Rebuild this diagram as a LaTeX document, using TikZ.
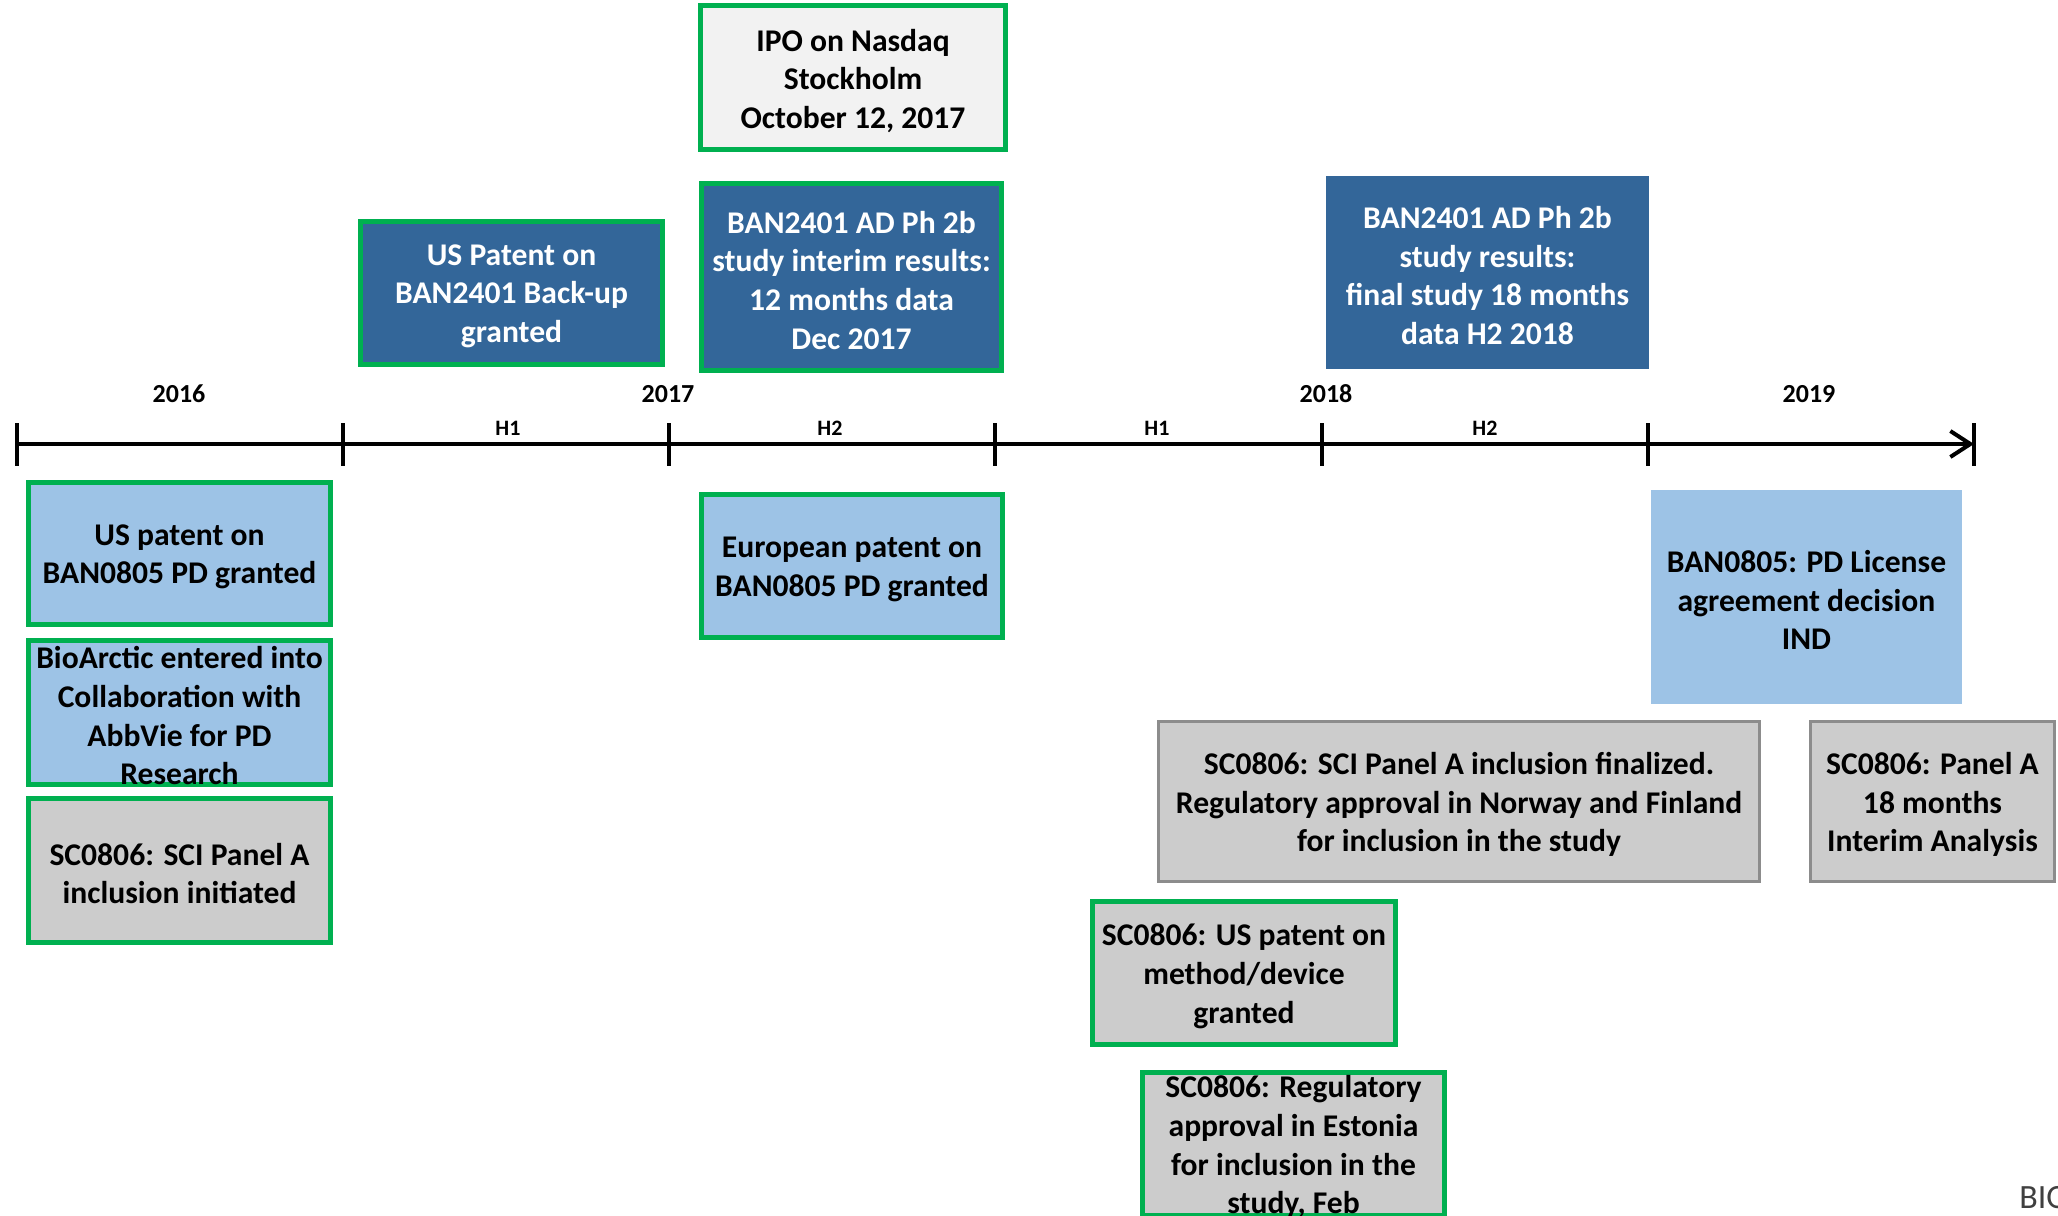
\documentclass[tikz,border=0pt]{standalone}
\usepackage{fontspec}
\setmainfont{Carlito}
\usetikzlibrary{arrows.meta}
\definecolor{dblue}{HTML}{336699}
\definecolor{lblue}{HTML}{9DC3E6}
\definecolor{gfill}{HTML}{CCCCCC}
\definecolor{lgray}{HTML}{F2F2F2}
\definecolor{grn}{HTML}{00B050}
\definecolor{gborder}{HTML}{8C8C8C}
\definecolor{logogray}{HTML}{404040}
\tikzset{
  evt/.style={inner sep=0pt},
  boxtext/.style={inner sep=0pt, align=center, yshift=-1.6pt,
    font=\fontsize{15.8pt}{19.3pt}\selectfont\bfseries},
  whitetext/.style={boxtext, text=white},
  blacktext/.style={boxtext, text=black},
  gbox/.style={evt, draw=grn, line width=2.5pt},
  darkbox/.style={fill=dblue},
  lightbox/.style={fill=lblue},
  graybox/.style={fill=gfill},
  ipobox/.style={fill=lgray},
  greyrim/.style={evt, draw=gborder, line width=1.5pt},
  axisline/.style={line width=2pt, black},
  tickmark/.style={line width=2pt, black},
  yearlbl/.style={inner sep=0pt, anchor=base, font=\fontsize{13pt}{15pt}\selectfont\bfseries},
  halflbl/.style={inner sep=0pt, anchor=base, font=\fontsize{11pt}{13pt}\selectfont\bfseries},
}
\begin{document}
\begin{tikzpicture}[x=0.5pt,y=-0.5pt]
\useasboundingbox (0,0) rectangle (2058,1216);

% timeline
\coordinate (t0) at (17,444);
\coordinate (t1) at (343,444);
\coordinate (t2) at (669,444);
\coordinate (t3) at (995,444);
\coordinate (t4) at (1322,444);
\coordinate (t5) at (1648,444);
\coordinate (t6) at (1974,444);
\draw[axisline, -{Straight Barb[length=10pt,width=13pt,line width=2pt]}] (t0) -- (t6);
\foreach \t in {t0,t1,t2,t3,t4,t5,t6}
  \draw[tickmark] ([yshift=10.5pt]\t) -- ([yshift=-11pt]\t);

\node[yearlbl] (y2016) at (179,402) {2016};
\node[yearlbl] (y2017) at (668,402) {2017};
\node[yearlbl] (y2018) at (1326,402) {2018};
\node[yearlbl] (y2019) at (1809,402) {2019};
\node[halflbl] (h1a) at (508,435) {H1};
\node[halflbl] (h2a) at (830,435) {H2};
\node[halflbl] (h1b) at (1157,435) {H1};
\node[halflbl] (h2b) at (1485,435) {H2};

% boxes above
\node[gbox, ipobox, minimum width=152.5pt, minimum height=72pt,
  label={[blacktext]center:{IPO on Nasdaq\\Stockholm\\October 12, 2017}}] (ipo) at (853,77.5) {};
\node[gbox, darkbox, minimum width=151pt, minimum height=71.5pt,
  label={[whitetext]center:{US Patent on\\BAN2401 Back-up\\granted}}] (uspat2401) at (511.5,293) {};
\node[gbox, darkbox, minimum width=150pt, minimum height=93.5pt,
  label={[whitetext]center:{BAN2401 AD Ph 2b\\study interim results:\\12 months data\\Dec 2017}}] (interim) at (851.5,277) {};
\node[evt, darkbox, minimum width=161.5pt, minimum height=96.5pt,
  label={[whitetext]center:{BAN2401 AD Ph 2b\\study results:\\final study 18 months\\data H2 2018}}] (final) at (1487.5,272.5) {};

% boxes below
\node[gbox, lightbox, minimum width=151pt, minimum height=71pt,
  label={[blacktext]center:{US patent on\\BAN0805 PD granted}}] (uspat0805) at (179.5,553.5) {};
\node[gbox, lightbox, minimum width=151pt, minimum height=72pt,
  label={[blacktext]center:{BioArctic entered into\\Collaboration with\\AbbVie for PD\\Research}}] (abbvie) at (179.5,712.5) {};
\node[gbox, graybox, minimum width=151pt, minimum height=72pt,
  label={[blacktext]center:{SC0806: SCI Panel A\\inclusion initiated}}] (sciinit) at (179.5,870.5) {};
\node[gbox, lightbox, minimum width=150.5pt, minimum height=71.5pt,
  label={[blacktext]center:{European patent on\\BAN0805 PD granted}}] (europat) at (852,566) {};
\node[evt, lightbox, minimum width=155.5pt, minimum height=107pt,
  label={[blacktext]center:{BAN0805: PD License\\agreement decision\\IND}}] (license) at (1806.5,597) {};
\node[greyrim, graybox, minimum width=300.5pt, minimum height=80pt,
  label={[blacktext]center:{SC0806: SCI Panel A inclusion finalized.\\Regulatory approval in Norway and Finland\\for inclusion in the study}}] (scifinal) at (1459,801.5) {};
\node[greyrim, graybox, minimum width=122pt, minimum height=80pt,
  label={[blacktext]center:{SC0806: Panel A\\18 months\\Interim Analysis}}] (panel18) at (1932.5,801.5) {};
\node[gbox, graybox, minimum width=151.5pt, minimum height=71.5pt,
  label={[blacktext]center:{SC0806: US patent on\\method/device\\granted}}] (scuspat) at (1244,973) {};
\node[gbox, graybox, minimum width=151pt, minimum height=71.5pt,
  label={[blacktext]center:{SC0806: Regulatory\\approval in Estonia\\for inclusion in the\\study, Feb}}] (estonia) at (1293.5,1144) {};

\node[inner sep=0pt, anchor=base west, text=logogray, font=\fontsize{17pt}{20pt}\selectfont] (logo) at (2019,1208) {BIO};
\end{tikzpicture}
\end{document}
